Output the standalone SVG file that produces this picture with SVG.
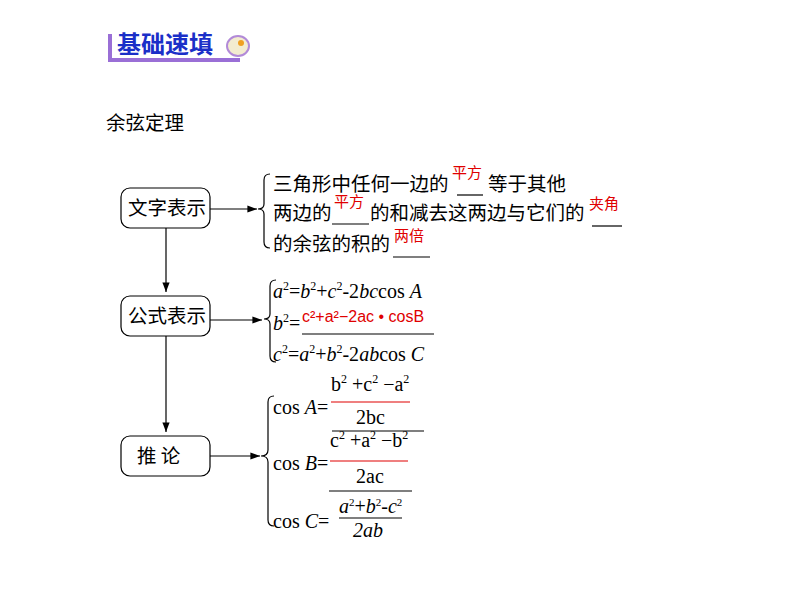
<svg xmlns="http://www.w3.org/2000/svg" width="794" height="596" viewBox="0 0 794 596">
<defs><marker id="ah" markerWidth="8" markerHeight="6" refX="8" refY="3" orient="auto"><path d="M0,0 L8,3 L0,6 Z" fill="#000"/></marker></defs>
<style>
.box{fill:#fff;stroke:#000;stroke-width:1.2}
.zh{font-family:"Noto Sans CJK SC",sans-serif;font-size:19.5px;fill:#000}
.rz{font-family:"Noto Sans CJK SC",sans-serif;font-size:15px;fill:#e00000}
.r{fill:#e00000}
.m{font-family:"Liberation Serif",serif;font-size:20px;fill:#000}
.mi{font-style:italic}
.ln{stroke:#000;stroke-width:1.2;fill:none}
.rl{stroke:#e00000;stroke-width:1.2}
</style>
<rect width="794" height="596" fill="#fff"/>
<g id="header">
<rect x="108" y="34" width="4" height="28" fill="#9a6fd6"/>
<rect x="108" y="58" width="132" height="4" fill="#9a6fd6"/>
<text x="117" y="53" font-family="Noto Sans CJK SC,sans-serif" font-size="24" font-weight="bold" fill="#1a2fc8">基础速填</text>
<ellipse cx="238" cy="46" rx="11" ry="10" fill="#f3eccf" stroke="#b28ad8" stroke-width="2"/>
<circle cx="241" cy="43" r="3" fill="#f0a020"/>
</g>
<text x="106" y="130" class="zh" font-size="21">余弦定理</text>
<g id="n1"><rect class="box" x="121" y="188" width="89" height="40" rx="9"/><text x="128" y="215" class="zh">文字表示</text></g>
<g id="n2"><rect class="box" x="121" y="296" width="89" height="40" rx="9"/><text x="128" y="323" class="zh">公式表示</text></g>
<g id="n3"><rect class="box" x="121" y="436" width="89" height="40" rx="9"/><text x="137" y="463" class="zh">推 论</text></g>
<g id="connectors">
<line class="ln" x1="210" y1="209" x2="257" y2="209" marker-end="url(#ah)"/>
<line class="ln" x1="210" y1="320" x2="262" y2="320" marker-end="url(#ah)"/>
<line class="ln" x1="210" y1="456" x2="260" y2="456" marker-end="url(#ah)"/>
<line class="ln" x1="166" y1="228" x2="166" y2="292" marker-end="url(#ah)"/>
<line class="ln" x1="166" y1="336" x2="166" y2="432" marker-end="url(#ah)"/>
</g>
<g id="brace1"><path class="ln" d="M270,174 q-6,0 -6,6 v24 q0,5 -6,5 q6,0 6,5 v28 q0,6 6,6"/>
<text x="273" y="191" class="zh">三角形中任何一边的</text><text x="452" y="178" class="rz">平方</text><line class="ln" x1="457" y1="195" x2="483" y2="195"/><text x="488" y="191" class="zh">等于其他</text>
<text x="273" y="220" class="zh">两边的</text><text x="334" y="207" class="rz">平方</text><line class="ln" x1="332" y1="224" x2="369" y2="224"/><text x="370" y="220" class="zh">的和减去这两边与它们的</text><text x="589" y="209" class="rz" font-size="17">夹角</text><line class="ln" x1="592" y1="226" x2="622" y2="226"/>
<text x="273" y="251" class="zh">的余弦的积的</text><text x="394" y="241" class="rz">两倍</text><line class="ln" x1="393" y1="257" x2="430" y2="257"/>
</g>
<g id="brace2"><path class="ln" d="M276,280 q-6,0 -6,6 v28 q0,5 -6,5 q6,0 6,5 v32 q0,6 6,6"/>
<text x="273" y="298" class="m"><tspan class="mi">a</tspan><tspan font-size="12" dy="-8">2</tspan><tspan dy="8">=</tspan><tspan class="mi">b</tspan><tspan font-size="12" dy="-8">2</tspan><tspan dy="8">+</tspan><tspan class="mi">c</tspan><tspan font-size="12" dy="-8">2</tspan><tspan dy="8">-2</tspan><tspan class="mi">bc</tspan>cos <tspan class="mi">A</tspan></text>
<text x="273" y="330" class="m"><tspan class="mi">b</tspan><tspan font-size="12" dy="-8">2</tspan><tspan dy="8">=</tspan></text>
<text x="302" y="322" font-family="Liberation Sans,sans-serif" font-size="16" fill="#e00000">c²+a²−2ac • cosB</text>
<line class="ln" x1="302" y1="334" x2="434" y2="334"/>
<text x="273" y="361" class="m"><tspan class="mi">c</tspan><tspan font-size="12" dy="-8">2</tspan><tspan dy="8">=</tspan><tspan class="mi">a</tspan><tspan font-size="12" dy="-8">2</tspan><tspan dy="8">+</tspan><tspan class="mi">b</tspan><tspan font-size="12" dy="-8">2</tspan><tspan dy="8">-2</tspan><tspan class="mi">ab</tspan>cos <tspan class="mi">C</tspan></text>
</g>
<g id="brace3"><path class="ln" d="M274,396 q-6,0 -6,6 v48 q0,6 -7,6 q7,0 7,6 v58 q0,6 6,6"/>
<text x="273" y="414" class="m">cos <tspan class="mi">A</tspan>=</text>
<text x="331" y="391" class="m r">b<tspan font-size="12" dy="-8">2</tspan><tspan dy="8"> +c</tspan><tspan font-size="12" dy="-8">2</tspan><tspan dy="8"> −a</tspan><tspan font-size="12" dy="-8">2</tspan></text>
<line class="rl" x1="331" y1="402" x2="410" y2="402"/>
<text x="356" y="424" class="m r">2bc</text>
<line class="ln" x1="332" y1="431" x2="424" y2="431"/>
<text x="330" y="447" class="m r">c<tspan font-size="12" dy="-8">2</tspan><tspan dy="8"> +a</tspan><tspan font-size="12" dy="-8">2</tspan><tspan dy="8"> −b</tspan><tspan font-size="12" dy="-8">2</tspan></text>
<text x="273" y="470" class="m">cos <tspan class="mi">B</tspan>=</text>
<line class="rl" x1="330" y1="461" x2="408" y2="461"/>
<text x="356" y="483" class="m r">2ac</text>
<line class="ln" x1="329" y1="491" x2="412" y2="491"/>
<text x="273" y="528" class="m">cos <tspan class="mi">C</tspan>=</text>
<text x="339" y="513" class="m" font-size="18"><tspan class="mi">a</tspan><tspan font-size="11" dy="-7">2</tspan><tspan dy="7">+</tspan><tspan class="mi">b</tspan><tspan font-size="11" dy="-7">2</tspan><tspan dy="7">-</tspan><tspan class="mi">c</tspan><tspan font-size="11" dy="-7">2</tspan></text>
<line class="ln" x1="339" y1="518" x2="402" y2="518"/>
<text x="353" y="537" class="m mi" font-size="18">2ab</text>
</g>
</svg>
